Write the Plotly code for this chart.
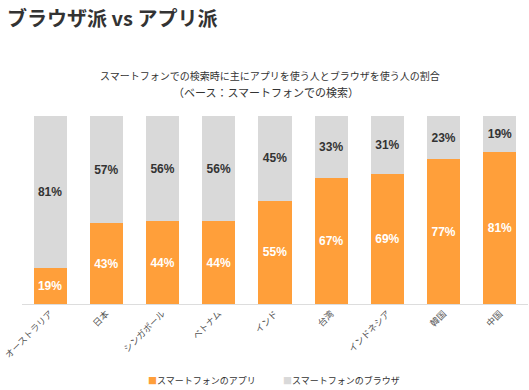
import plotly.graph_objects as go

countries = ["オーストラリア", "日本", "シンガポール", "ベトナム", "インド", "台湾", "インドネシア", "韓国", "中国"]
app_share = [19, 43, 44, 44, 55, 67, 69, 77, 81]
browser_share = [81, 57, 56, 56, 45, 33, 31, 23, 19]
series_names = ["スマートフォンのアプリ", "スマートフォンのブラウザ"]
series_colors = ["#FF9F3A", "#D9D9D9"]

JP = "Noto Sans CJK JP, Noto Sans, sans-serif"
NUM = "Liberation Sans, Arial, sans-serif"

fig = go.Figure()
fig.add_trace(go.Bar(
    x=countries, y=app_share, name=series_names[0],
    marker=dict(color=series_colors[0], line=dict(width=0)),
    text=[f"{v}%" for v in app_share], textposition="inside",
    insidetextanchor="middle", textangle=0, constraintext="none",
    textfont=dict(family=NUM, size=12, color="white", weight="bold"),
    hoverinfo="skip",
))
fig.add_trace(go.Bar(
    x=countries, y=browser_share, name=series_names[1],
    marker=dict(color=series_colors[1], line=dict(width=0)),
    text=[f"{v}%" for v in browser_share], textposition="inside",
    insidetextanchor="middle", textangle=0, constraintext="none",
    textfont=dict(family=NUM, size=12, color="#333333", weight="bold"),
    hoverinfo="skip",
))

legend_y = (304 - 380) / 188
legend_ann = [
    dict(text=f"<span style='color:{series_colors[0]}'>■</span>{series_names[0]}",
         xref="paper", yref="paper", x=(146 - 22) / 506, y=legend_y,
         xanchor="left", yanchor="middle", showarrow=False,
         font=dict(family=JP, size=9, color="#333333")),
    dict(text=f"<span style='color:{series_colors[1]}'>■</span>{series_names[1]}",
         xref="paper", yref="paper", x=(281 - 22) / 506, y=legend_y,
         xanchor="left", yanchor="middle", showarrow=False,
         font=dict(family=JP, size=9, color="#333333")),
]

fig.update_layout(
    width=529, height=390,
    barmode="stack", bargap=0.41,
    margin=dict(l=22, r=1, t=116, b=86, autoexpand=False),
    paper_bgcolor="white", plot_bgcolor="white",
    font=dict(family=JP, color="#333333"),
    xaxis=dict(
        tickangle=-45, tickfont=dict(family=JP, size=9, color="#555555"),
        showline=True, linecolor="#DDDDDD", linewidth=1,
        ticks="", showgrid=False, fixedrange=True,
    ),
    yaxis=dict(range=[0, 100], visible=False, fixedrange=True),
    showlegend=False,
    annotations=[
        dict(text="<b>ブラウザ派 vs アプリ派</b>", xref="paper", yref="paper",
             x=-17/506, y=1 + (116-18)/188, xanchor="left", yanchor="middle",
             showarrow=False, font=dict(family=JP, size=20, color="#333333")),
        dict(text="スマートフォンでの検索時に主にアプリを使う人とブラウザを使う人の割合",
             xref="paper", yref="paper", x=(270-22)/506, y=1 + (116-75)/188,
             xanchor="center", yanchor="middle", showarrow=False,
             font=dict(family=JP, size=10, color="#333333")),
        dict(text="（ベース：スマートフォンでの検索）",
             xref="paper", yref="paper", x=(266-22)/506, y=1 + (116-92)/188,
             xanchor="center", yanchor="middle", showarrow=False,
             font=dict(family=JP, size=11, color="#333333")),
    ] + legend_ann,
)

fig.write_html("out.html", config={"displayModeBar": False},
               post_script="document.body.style.margin='0';")
